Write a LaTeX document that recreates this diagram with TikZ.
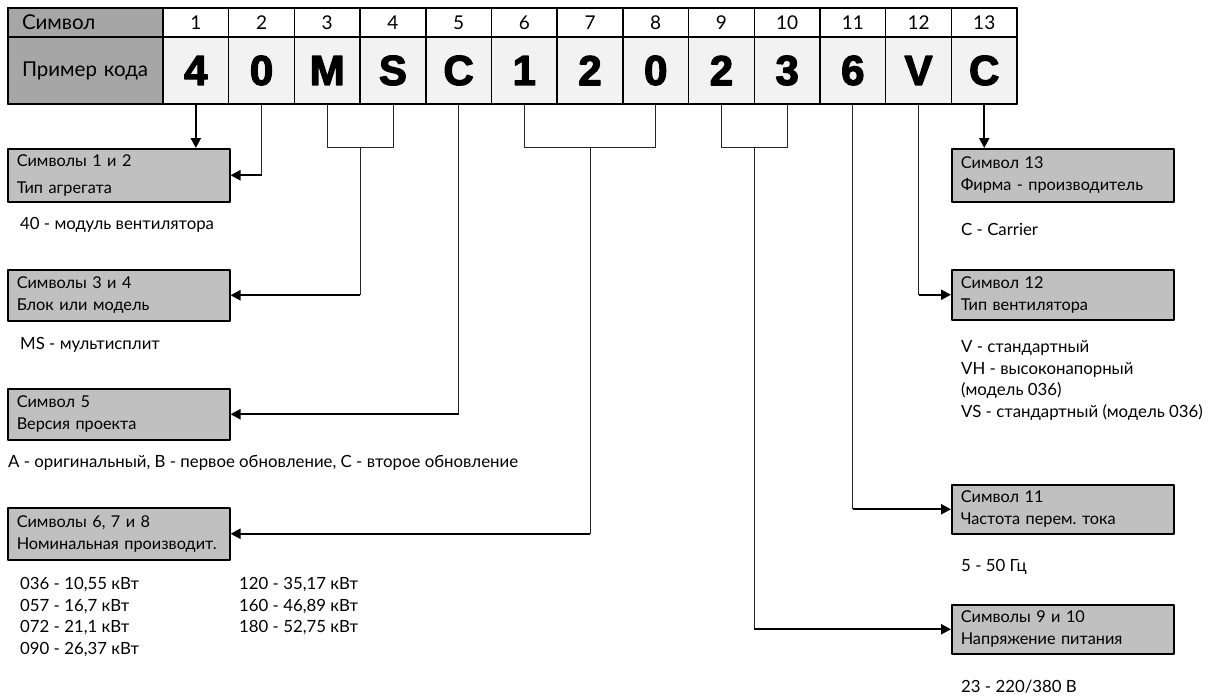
\documentclass[tikz,border=0pt]{standalone}
\usepackage{fontspec}
\setmainfont{Lato}
\newfontfamily\codefont{Liberation Sans}[FakeBold=3]
\usetikzlibrary{arrows.meta,calc}
\definecolor{boxgray}{RGB}{192,192,192}
\definecolor{labgray}{RGB}{166,166,166}
\definecolor{cellgray}{RGB}{242,242,242}
\begin{document}
\begin{tikzpicture}[x=1pt, y=-1pt, font=\fontsize{16.8}{21.8}\selectfont, line join=round,
	>={Triangle[length=10pt,width=10pt]},
	lcell/.style={draw, line width=1.5pt, fill=labgray, text width=127pt, inner xsep=14pt, inner ysep=0pt, align=left, font=\fontsize{20.5}{22}\selectfont},
	hcell/.style={draw, line width=1.5pt, fill=white, minimum width=65.7pt, minimum height=29pt, inner sep=0pt, font=\fontsize{19}{20}\selectfont},
	ccell/.style={draw, line width=1.5pt, fill=cellgray, minimum width=65.7pt, minimum height=67pt, inner sep=0pt, font=\codefont\bfseries\fontsize{42}{44}\selectfont},
	infobox/.style={draw, line width=1.5pt, fill=boxgray, text width=204pt, inner xsep=9pt, inner ysep=0pt, minimum height=51pt, align=left, anchor=north west, font=\fontsize{16.3}{21.8}\selectfont},
	note/.style={anchor=west, inner sep=0pt, align=left},
	thinline/.style={line width=0.9pt, draw=black!85},
	lead/.style={line width=2.2pt, ->}]
	\useasboundingbox (0,0) rectangle (1216,699);
	% table of the code
	\node[lcell, minimum height=29pt] (hl) at (85.5,22.5) {Символ};
	\node[lcell, minimum height=67pt] (cl) at (85.5,70.5) {Пример кода};
	\foreach \i/\c in {1/4,2/0,3/M,4/S,5/C,6/1,7/2,8/0,9/2,10/3,11/6,12/V,13/C}{
		\node[hcell] (h\i) at ({163+(\i-0.5)*65.7},22.5) {\i};
		\node[ccell] (c\i) at ({163+(\i-0.5)*65.7},70.5) {\c};
	}
	\draw[line width=2pt] (8,8) rectangle (1017,104);
	% boxes on the left
	\node[infobox, minimum height=53pt] (b1) at (7,148) {Символы 1 и 2\\[5pt]Тип агрегата};
	\node[infobox] (b2) at (7,269) {Символы 3 и 4\\Блок или модель};
	\node[infobox] (b3) at (7,388) {Символ 5\\Версия проекта};
	\node[infobox, minimum height=52pt] (b4) at (7,507) {Символы 6, 7 и 8\\\mbox{Номинальная производит.}};
	% boxes on the right
	\node[infobox, minimum height=53pt] (b13) at (951,148) {Символ 13\\Фирма - производитель};
	\node[infobox, minimum height=50pt] (b12) at (951,269) {Символ 12\\Тип вентилятора};
	\node[infobox, minimum height=49pt] (b11) at (951,484) {Символ 11\\Частота перем.\ тока};
	\node[infobox, minimum height=49pt] (b9) at (951,604) {Символы 9 и 10\\Напряжение питания};
	% notes
	\node[note] (n1) at (20,225) {40 - модуль вентилятора};
	\node[note] (n2) at (20,345) {MS - мультисплит};
	\node[note] (n3) at (8,463) {A - оригинальный, B - первое обновление, C - второе обновление};
	\node[note, anchor=north west] (n4) at (20,577) {036 - 10,55 кВт\\057 - 16,7 кВт\\072 - 21,1 кВт\\090 - 26,37 кВт};
	\node[note, anchor=north west] (n5) at (239,577) {120 - 35,17 кВт\\160 - 46,89 кВт\\180 - 52,75 кВт};
	\node[note] (n13) at (961,229) {C - Carrier};
	\node[note, anchor=north west] (n12) at (961,340) {V - стандартный\\VH - высоконапорный\\(модель 036)\\VS - стандартный (модель 036)};
	\node[note] (n11) at (961,567) {5 - 50 Гц};
	\node[note] (n9) at (961,687) {23 - 220/380 B};
	% connectors
	\coordinate (j34) at ($(c3.south)!.5!(c4.south)+(0,43)$);
	\coordinate (j68) at ($(c6.south)!.5!(c8.south)+(0,43)$);
	\coordinate (j910) at ($(c9.south)!.5!(c10.south)+(0,43)$);
	\draw[lead] (c1.south) -- (c1.south |- b1.north);
	\draw[thinline] (c2.south) -- (c2.south |- b1.east);
	\draw[lead] (c2.south |- b1.east) -- (b1.east);
	\draw[thinline] (c3.south) |- (j34) -| (c4.south);
	\draw[thinline] (j34) -- (j34 |- b2.east);
	\draw[lead] (j34 |- b2.east) -- (b2.east);
	\draw[thinline] (c5.south) -- (c5.south |- b3.east);
	\draw[lead] (c5.south |- b3.east) -- (b3.east);
	\draw[thinline] (c6.south) |- (j68) -| (c8.south);
	\draw[thinline] (j68) -- (j68 |- b4.east);
	\draw[lead] (j68 |- b4.east) -- (b4.east);
	\draw[thinline] (c9.south) |- (j910) -| (c10.south);
	\draw[thinline] (j910) -- (j910 |- b9.west);
	\draw[lead] (j910 |- b9.west) -- (b9.west);
	\draw[thinline] (c11.south) -- (c11.south |- b11.west);
	\draw[lead] (c11.south |- b11.west) -- (b11.west);
	\draw[thinline] (c12.south) -- (c12.south |- b12.west);
	\draw[lead] (c12.south |- b12.west) -- (b12.west);
	\draw[lead] (c13.south) -- (c13.south |- b13.north);
\end{tikzpicture}
\end{document}
